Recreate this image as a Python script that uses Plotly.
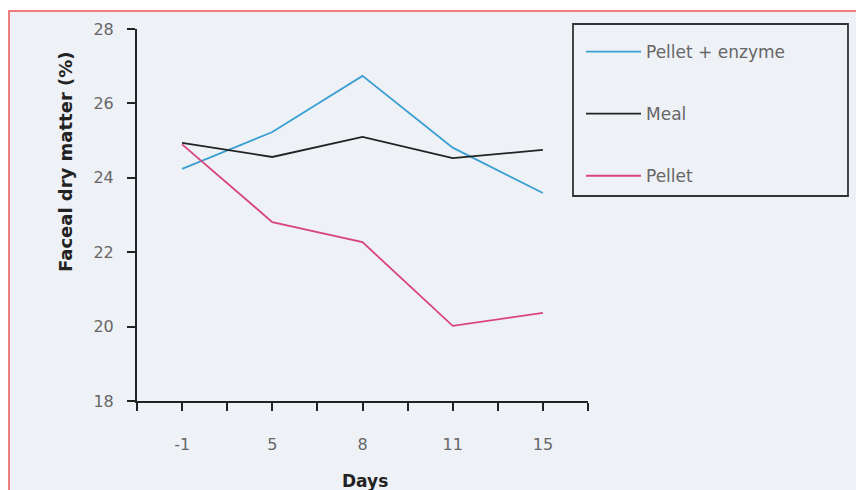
import plotly.graph_objects as go

days = ["-1", "5", "8", "11", "15"]
pellet_enzyme = [24.24, 25.23, 26.74, 24.81, 23.59]
meal = [24.94, 24.56, 25.10, 24.53, 24.75]
pellet = [24.90, 22.81, 22.27, 20.02, 20.37]
y_ticks = [18, 20, 22, 24, 26, 28]

# page has an 8px body margin; work in page pixels
OFF = 8
W, H = 864 - OFF, 490 - OFF
PL, PR, PT, PB = 137, 588, 29, 401  # plot area in page px
pw, ph = PR - PL, PB - PT

def px(x):
    return (x - PL) / pw

def py(y):
    return (PB - y) / ph

idx = list(range(len(days)))
font = "'DejaVu Sans', sans-serif"

fig = go.Figure()
fig.add_trace(go.Scatter(x=idx, y=pellet_enzyme, mode="lines", name="Pellet + enzyme",
                         line=dict(color="#3a9fd2", width=1.8), legendgroup="a"))
fig.add_trace(go.Scatter(x=idx, y=meal, mode="lines", name="Meal",
                         line=dict(color="#222222", width=1.8), legendgroup="b"))
fig.add_trace(go.Scatter(x=idx, y=pellet, mode="lines", name="Pellet",
                         line=dict(color="#d8457c", width=1.8), legendgroup="c"))

tickvals = [i / 2 for i in range(-1, 2 * len(days))]
ticktext = [days[int(v)] if v == int(v) else "" for v in tickvals]

fig.update_layout(
    width=W, height=H,
    margin=dict(l=PL - OFF, r=W - (PR - OFF), t=PT - OFF, b=H - (PB - OFF)),
    paper_bgcolor="white",
    plot_bgcolor="rgba(0,0,0,0)",
    font=dict(family=font, size=15, color="#666666"),
    showlegend=True,
    legend=dict(x=px(581), y=py(34), xanchor="left", yanchor="top",
                bgcolor="rgba(0,0,0,0)", borderwidth=0, itemwidth=55,
                tracegroupgap=37, font=dict(family=font, size=17, color="#666666")),
    xaxis=dict(range=[-0.5, len(days) - 0.5], tickmode="array", tickvals=tickvals,
               ticktext=ticktext, showgrid=False, zeroline=False,
               showline=True, linecolor="#222222", linewidth=2,
               ticks="outside", ticklen=8, tickwidth=2, tickcolor="#222222",
               ticklabelstandoff=20,
               tickfont=dict(family=font, size=16, color="#666666")),
    yaxis=dict(range=[18, 28], tickvals=y_ticks, showgrid=False, zeroline=False,
               showline=True, linecolor="#222222", linewidth=2,
               ticks="outside", ticklen=8, tickwidth=2, tickcolor="#222222",
               ticklabelstandoff=10,
               tickfont=dict(family=font, size=16, color="#666666")),
    annotations=[
        dict(text="<b>Faceal dry matter (%)</b>", xref="paper", yref="paper",
             x=px(65), y=py(162), xanchor="center", yanchor="middle",
             textangle=-90, showarrow=False,
             font=dict(family=font, size=18, color="#222222")),
        dict(text="<b>Days</b>", xref="paper", yref="paper",
             x=px(365), y=py(481), xanchor="center", yanchor="middle",
             showarrow=False, font=dict(family=font, size=17, color="#222222")),
    ],
    shapes=[
        dict(type="rect", xref="paper", yref="paper", layer="below",
             x0=px(9), x1=px(900), y0=py(520), y1=py(11),
             fillcolor="#eef1f6", line=dict(color="#ee5555", width=1.5)),
        dict(type="rect", xref="paper", yref="paper",
             x0=px(573), x1=px(848), y0=py(196), y1=py(24),
             fillcolor="rgba(0,0,0,0)", line=dict(color="#333333", width=1.8)),
    ],
)

fig.write_html("out.html")
